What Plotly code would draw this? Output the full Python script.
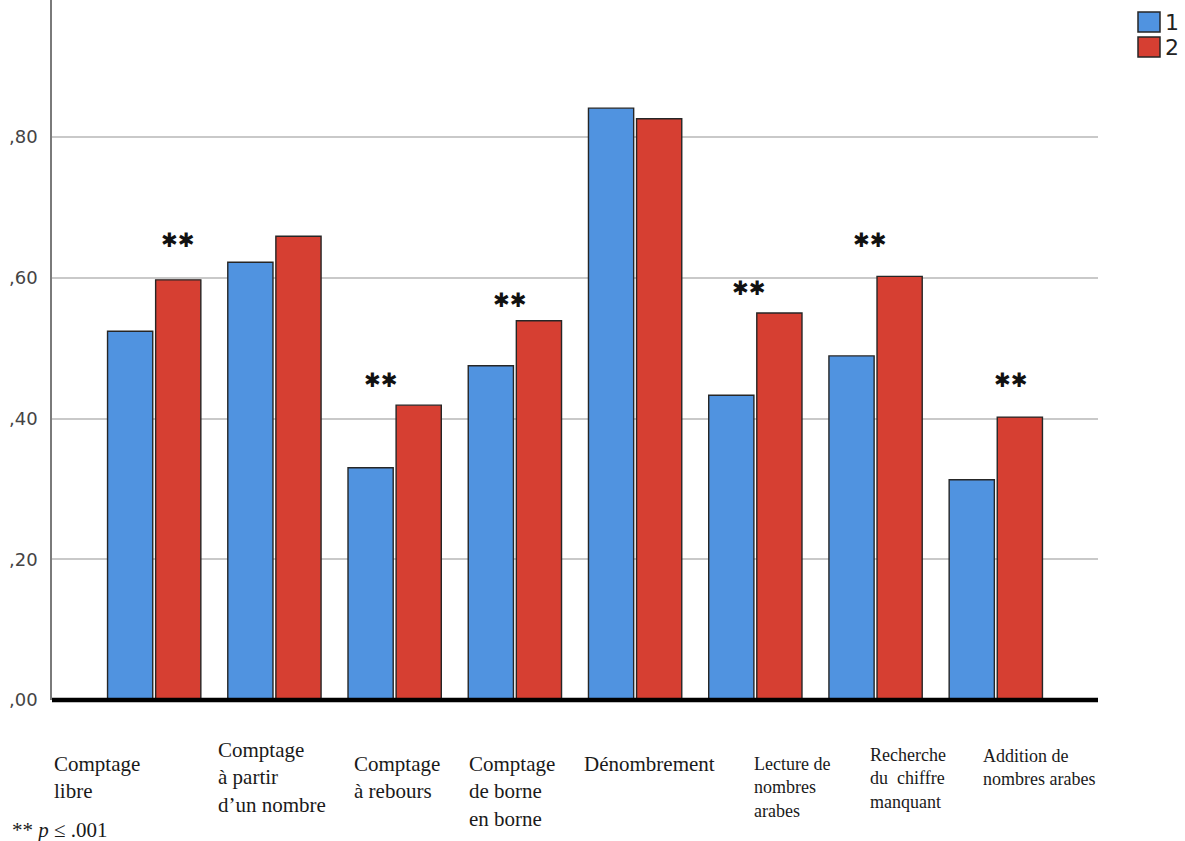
import plotly.graph_objects as go

# Task categories (x axis) and mean scores for the two groups
categories = ["1", "2", "3", "4", "5", "6", "7", "8"]
group1 = [0.524, 0.622, 0.330, 0.475, 0.841, 0.433, 0.489, 0.313]
group2 = [0.597, 0.659, 0.419, 0.539, 0.826, 0.550, 0.602, 0.402]
series_names = ["1", "2"]

# Task names printed below the axis
task_labels = [
    "Comptage<br>libre",
    "Comptage<br>à partir<br>d’un nombre",
    "Comptage<br>à rebours",
    "Comptage<br>de borne<br>en borne",
    "Dénombrement",
    "Lecture de<br>nombres<br>arabes",
    "Recherche<br>du  chiffre<br>manquant",
    "Addition de<br>nombres arabes",
]

# Significance markers (** p <= .001)
significant = [True, False, True, True, False, True, True, True]

# y axis ticks
y_ticks = [0.0, 0.2, 0.4, 0.6, 0.8]
y_tick_text = [",00", ",20", ",40", ",60", ",80"]

BLUE = "#5093E0"
RED = "#D63F32"
EDGE = "#262626"
colors = [BLUE, RED]

W, H = 1185, 841
L, R, T, B = 52, 87, 0, 141
pw, ph = W - L - R, H - T - B


def px_x(px):
    return (px - L) / pw


def px_y(py):
    return (H - B - py) / ph


fig = go.Figure()
for name, vals, col in zip(series_names, [group1, group2], colors):
    fig.add_trace(go.Bar(x=list(range(len(categories))), y=vals, name=name,
                         marker=dict(color=col, line=dict(color=EDGE, width=1.4))))

annotations = []
shapes = []

# "**" above significant pairs: (x offset from group centre, height)
star_pos = {0: (0.20, 0.654), 2: (-0.11, 0.455), 3: (-0.04, 0.568),
            5: (-0.05, 0.585), 6: (-0.05, 0.654), 7: (0.13, 0.455)}
for i, sig in enumerate(significant):
    if sig:
        dx, yy = star_pos[i]
        annotations.append(dict(x=i + dx, y=yy, xref="x", yref="y", text="✱✱",
                                showarrow=False, font=dict(family="DejaVu Sans", size=20, color="#111"),
                                xanchor="center", yanchor="middle"))

# Task labels below the plot (left x, top y, font size)
label_layout = [
    (52, 750, 21), (216, 736, 21), (352, 750, 21), (467, 750, 21),
    (582, 750, 21), (752, 752, 18), (868, 743, 18), (981, 744, 18),
]
for text, (px, py, fs) in zip(task_labels, label_layout):
    annotations.append(dict(
        x=px_x(px), y=px_y(py), xref="paper", yref="paper",
        text=text, showarrow=False, xanchor="left", yanchor="top", align="left",
        font=dict(family="Liberation Serif", size=fs, color="#1a1a1a"),
    ))

annotations.append(dict(
    x=px_x(10), y=px_y(816), xref="paper", yref="paper",
    text="** <i>p</i> ≤ .001", showarrow=False, xanchor="left", yanchor="top",
    font=dict(family="Liberation Serif", size=21, color="#1a1a1a"),
))

# Legend: outlined swatches with labels, top right
for k, (name, col) in enumerate(zip(series_names, colors)):
    top = 12 + k * 25
    shapes.append(dict(type="rect", xref="paper", yref="paper",
                       x0=px_x(1138), x1=px_x(1160), y0=px_y(top + 20), y1=px_y(top),
                       fillcolor=col, line=dict(color=EDGE, width=1.5)))
    annotations.append(dict(x=px_x(1163), y=px_y(top + 10), xref="paper", yref="paper",
                            text=name, showarrow=False, xanchor="left", yanchor="middle",
                            font=dict(family="DejaVu Sans", size=22, color="#222")))

# heavy baseline
shapes.append(dict(type="line", xref="paper", yref="paper", x0=0, x1=1, y0=0, y1=0,
                   line=dict(color="black", width=4.5)))

fig.update_layout(
    width=W, height=H,
    margin=dict(l=L, r=R, t=T, b=B, pad=0, autoexpand=False),
    paper_bgcolor="white", plot_bgcolor="white",
    barmode="group", bargap=0.2, bargroupgap=0.06,
    showlegend=False,
    annotations=annotations,
    shapes=shapes,
    xaxis=dict(range=[-0.85, 7.85], showticklabels=False, showgrid=False, zeroline=False,
               showline=False, ticks=""),
    yaxis=dict(range=[0, 0.9947], tickvals=y_ticks, ticktext=y_tick_text,
               showgrid=True, gridcolor="#c9c9c9", gridwidth=1.5, zeroline=False,
               showline=True, linecolor="#7a7a7a", linewidth=1.5, ticks="", ticklen=0,
               ticklabelstandoff=9,
               tickfont=dict(family="DejaVu Sans", size=18, color="#444")),
)

fig.write_html("out.html")
